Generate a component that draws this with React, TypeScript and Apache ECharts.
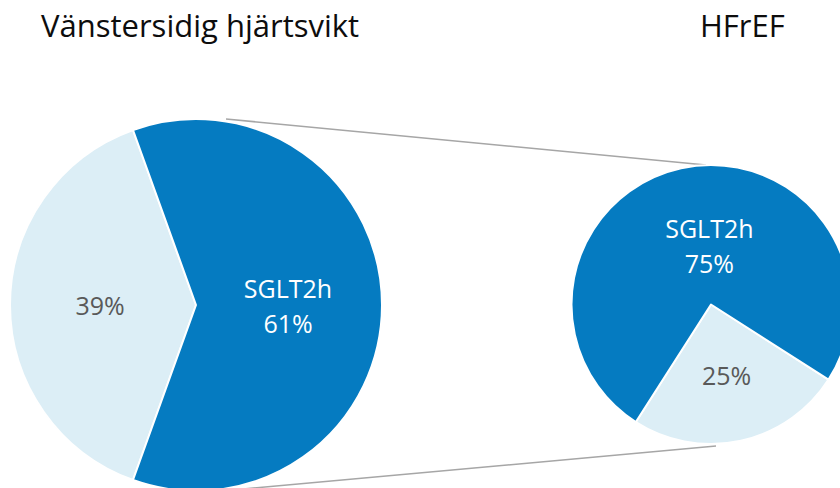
import React, { useEffect, useRef } from "react";
import * as echarts from "echarts";

const titleLeft = "Vänstersidig hjärtsvikt";
const titleRight = "HFrEF";

const leftCategories = ["Övriga", "SGLT2h"];
const leftValues = [39, 61];

const rightCategories = ["Övriga", "SGLT2h"];
const rightValues = [25, 75];

const DARK = "#057BC1";
const LIGHT = "#DCEEF6";
const FONT = "'Open Sans', 'Noto Sans', sans-serif";

function buildData(cats: string[], vals: number[]) {
  return cats.map((c, i) => {
    const isMain = c === "SGLT2h";
    return {
      name: c,
      value: vals[i],
      itemStyle: { color: isMain ? DARK : LIGHT },
      label: { color: isMain ? "#FFFFFF" : "#595959" },
    };
  });
}

export default function App() {
  const ref = useRef<HTMLDivElement>(null);
  useEffect(() => {
    if (!ref.current) return;
    const chart = echarts.init(ref.current, null, { renderer: "svg" });
    const L = { cx: 196, cy: 305, r: 186 };
    const R = { cx: 711, cy: 304.5, r: 139.5 };
    const labelCommon = {
      show: true,
      position: "inside",
      fontFamily: FONT,
      fontSize: 25,
      lineHeight: 35,
      formatter: (p: any) =>
        p.name === "SGLT2h" ? `${p.name}\n${p.value}%` : `${p.value}%`,
    };
    const titleStyle = { fontFamily: FONT, fontSize: 31, fontWeight: "normal", color: "#0D0D0D" };
    chart.setOption({
      animation: false,
      backgroundColor: "#ffffff",
      title: [
        { text: titleLeft, left: 36, top: 4, textStyle: titleStyle },
        { text: titleRight, left: 695, top: 4, textStyle: titleStyle },
      ],
      graphic: [
        {
          type: "line",
          z: 0,
          shape: { x1: 226, y1: 119, x2: 706, y2: 165 },
          style: { stroke: "#A6A6A6", lineWidth: 1.5 },
          silent: true,
        },
        {
          type: "line",
          z: 0,
          shape: { x1: 232, y1: 490, x2: 716, y2: 446 },
          style: { stroke: "#A6A6A6", lineWidth: 1.5 },
          silent: true,
        },
      ],
      series: [
        {
          type: "pie",
          z: 5,
          center: [L.cx, L.cy],
          radius: [0, L.r],
          startAngle: 250.2,
          clockwise: true,
          silent: true,
          label: labelCommon,
          labelLine: { show: false },
          labelLayout: (p: any) => (p.dataIndex === 1 ? { dx: -4, dy: 0 } : { dx: 0, dy: 0 }),
          itemStyle: { borderColor: "#ffffff", borderWidth: 2 },
          emphasis: { disabled: true },
          data: buildData(leftCategories, leftValues),
        },
        {
          type: "pie",
          z: 5,
          center: [R.cx, R.cy],
          radius: [0, R.r],
          startAngle: 327.4,
          clockwise: true,
          silent: true,
          label: labelCommon,
          labelLine: { show: false },
          labelLayout: (p: any) => (p.dataIndex === 1 ? { dx: 14, dy: 12 } : { dx: 0, dy: -1 }),
          itemStyle: { borderColor: "#ffffff", borderWidth: 2 },
          emphasis: { disabled: true },
          data: buildData(rightCategories, rightValues),
        },
      ],
    });
    return () => chart.dispose();
  }, []);
  return (
    <div
      ref={ref}
      style={{ position: "absolute", left: 0, top: 0, width: 840, height: 488 }}
    />
  );
}
